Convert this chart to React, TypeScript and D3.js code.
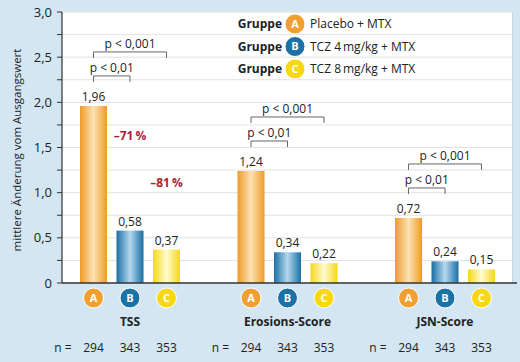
import React from "react";
import * as d3 from "d3";

const groups = ["A", "B", "C"];
const legendLabels = ["Placebo + MTX", "TCZ 4\u2009mg/kg + MTX", "TCZ 8\u2009mg/kg + MTX"];
const categories = ["TSS", "Erosions-Score", "JSN-Score"];
const valuesA = [1.96, 1.24, 0.72];
const valuesB = [0.58, 0.34, 0.24];
const valuesC = [0.37, 0.22, 0.15];
const nValues = [294, 343, 353];
const yTicks = [0, 0.5, 1.0, 1.5, 2.0, 2.5, 3.0];
const yMinor = [0.25, 0.75, 1.25, 1.75, 2.25, 2.75];
const percentLabels = ["\u201371\u2009%", "\u201381\u2009%"];

const W = 520, H = 362;
const FONT = "'Open Sans', 'Noto Sans', sans-serif";
const colors = {
  A: { edge: "#ef9b25", mid: "#fde2b5", circle: "#f0a030" },
  B: { edge: "#1a6fa3", mid: "#b5d8ee", circle: "#1a72a6" },
  C: { edge: "#f6d818", mid: "#fffbd0", circle: "#f7d812" },
};

export default function App() {
  const y = d3.scaleLinear().domain([0, 3]).range([283, 12]);
  const GW = 100;
  const x0 = d3.scaleBand().domain(categories).range([51.25, 523.75]).paddingInner(0).paddingOuter(0);
  const x1 = d3.scaleBand().domain(groups).range([0, GW]).paddingInner(0.26).paddingOuter(0);
  const groupOffset = (x0.bandwidth() - GW) / 2;
  const barX = (cat: string, g: string) => (x0(cat) as number) + groupOffset + (x1(g) as number);
  const bw = x1.bandwidth();
  const cx = (cat: string, g: string) => barX(cat, g) + bw / 2;
  const series: Record<string, number[]> = { A: valuesA, B: valuesB, C: valuesC };
  const fmt = (v: number) => v.toFixed(2).replace(".", ",");
  const fmtTick = (v: number) => (v === 0 ? "0" : v.toFixed(1).replace(".", ","));

  const brackets = categories.map((cat, i) => {
    const top = y(valuesA[i]);
    return [
      { from: "A", to: "B", yy: top - 30, label: "p < 0,01" },
      { from: "A", to: "C", yy: top - 54, label: "p < 0,001" },
    ].map((b) => ({ ...b, cat }));
  }).flat();

  return (
    <svg width={W} height={H} style={{ position: "absolute", left: 0, top: 0, fontFamily: FONT }}>
      <defs>
        {groups.map((g) => (
          <linearGradient key={g} id={`grad${g}`} x1="0" x2="1" y1="0" y2="0">
            <stop offset="0" stopColor={(colors as any)[g].edge} />
            <stop offset="0.5" stopColor={(colors as any)[g].mid} />
            <stop offset="1" stopColor={(colors as any)[g].edge} />
          </linearGradient>
        ))}
      </defs>
      <rect x={0} y={0} width={W} height={H} fill="#d3e6f2" />
      <rect x={62} y={12} width={450} height={271} fill="#ffffff" />
      <line x1={512.5} x2={512.5} y1={12} y2={283} stroke="#c4d6e2" strokeWidth={1} />
      {[...yTicks, ...yMinor].filter((v) => v > 0).map((v) => (
        <line key={"g" + v} x1={62} x2={512} y1={y(v)} y2={y(v)} stroke="#e2e2e2" strokeWidth={1} />
      ))}
      {/* y axis */}
      <line x1={62} x2={62} y1={12} y2={283} stroke="#333" strokeWidth={1.2} />
      {[...yTicks, ...yMinor].map((v) => (
        <line key={"t" + v} x1={57} x2={62} y1={y(v)} y2={y(v)} stroke="#333" strokeWidth={1} />
      ))}
      {yTicks.map((v) => (
        <text key={"l" + v} x={52} y={y(v)} dy="0.35em" textAnchor="end" fontSize={13} fill="#222">
          {fmtTick(v)}
        </text>
      ))}
      <text transform={`translate(21,150) rotate(-90)`} textAnchor="middle" fontSize={11.5} fill="#222">
        mittlere Änderung vom Ausgangswert
      </text>

      {/* legend */}
      {groups.map((g, i) => {
        const yy = 24 + i * 22.5;
        return (
          <g key={"leg" + g}>
            <text x={282} y={yy} dy="0.35em" textAnchor="end" fontSize={12} fontWeight="bold" fill="#222">Gruppe</text>
            <circle cx={295} cy={yy} r={10} fill={(colors as any)[g].circle} stroke="#fff" strokeWidth={1} />
            <text x={295} y={yy} dy="0.36em" textAnchor="middle" fontSize={11} fontWeight="bold" fill="#fff">{g}</text>
            <text x={310} y={yy} dy="0.35em" fontSize={12} fill="#222">{legendLabels[i]}</text>
          </g>
        );
      })}

      {/* bars */}
      {categories.map((cat, i) =>
        groups.map((g) => {
          const v = series[g][i];
          return (
            <g key={cat + g}>
              <rect x={barX(cat, g)} y={y(v)} width={bw} height={y(0) - y(v)} fill={`url(#grad${g})`} />
              <text x={cx(cat, g)} y={y(v) - 5} textAnchor="middle" fontSize={12} fill="#222">{fmt(v)}</text>
            </g>
          );
        })
      )}
      {/* x axis */}
      <line x1={62} x2={517} y1={283} y2={283} stroke="#333" strokeWidth={1.5} />

      {/* brackets */}
      {brackets.map((b, i) => {
        const xa = cx(b.cat, b.from);
        const xb = cx(b.cat, b.to);
        return (
          <g key={"br" + i}>
            <path d={`M${xa},${b.yy + 6}V${b.yy}H${xb}V${b.yy + 6}`} fill="none" stroke="#666" strokeWidth={1} />
            <text x={(xa + xb) / 2} y={b.yy - 4} textAnchor="middle" fontSize={12} fill="#222">{b.label}</text>
          </g>
        );
      })}

      {/* percentages */}
      <text x={cx("TSS", "B")} y={y(1.63)} dy="0.35em" textAnchor="middle" fontSize={12} fontWeight="bold" fill="#b01c34">{percentLabels[0]}</text>
      <text x={cx("TSS", "C")} y={y(1.11)} dy="0.35em" textAnchor="middle" fontSize={12} fontWeight="bold" fill="#b01c34">{percentLabels[1]}</text>

      {/* category circles & labels */}
      {categories.map((cat, i) => (
        <g key={"cat" + cat}>
          {groups.map((g) => (
            <g key={cat + "c" + g}>
              <circle cx={cx(cat, g)} cy={298} r={10} fill={(colors as any)[g].circle} stroke="#fff" strokeWidth={1} />
              <text x={cx(cat, g)} y={298} dy="0.36em" textAnchor="middle" fontSize={11} fontWeight="bold" fill="#fff">{g}</text>
              <text x={cx(cat, g)} y={348} dy="0.35em" textAnchor="middle" fontSize={12} fill="#222">{nValues[groups.indexOf(g)]}</text>
            </g>
          ))}
          <text x={cx(cat, "B")} y={322} dy="0.35em" textAnchor="middle" fontSize={12} fontWeight="bold" fill="#222">{cat}</text>
          <text x={cx(cat, "A") - 22} y={348} dy="0.35em" textAnchor="end" fontSize={12} fill="#222">n =</text>
        </g>
      ))}
    </svg>
  );
}
